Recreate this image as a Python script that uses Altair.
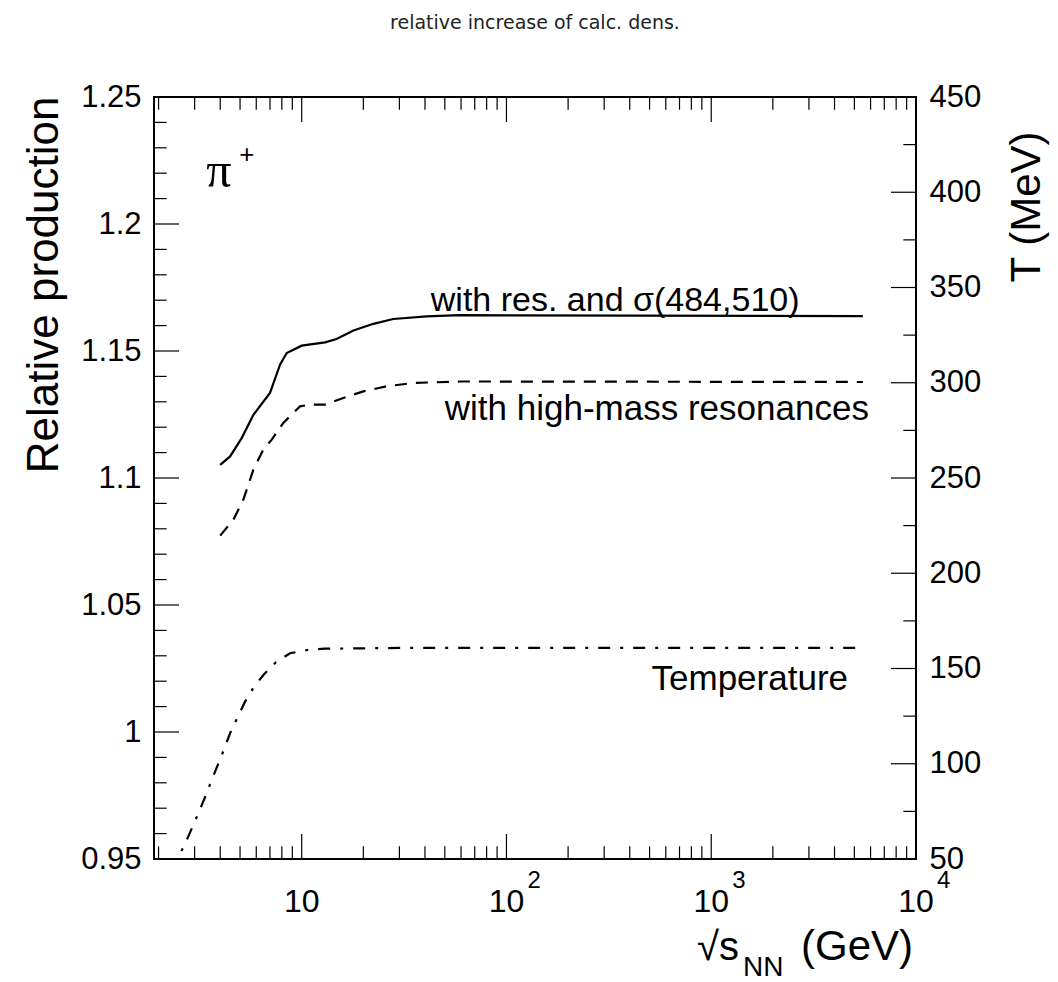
import altair as alt
import pandas as pd

# ---------------- data ----------------
# solid: with res. and sigma(484,510)
sqrt_s_res = [4.0, 4.47, 5.10, 5.81, 7.00, 7.84, 8.45, 10.0, 13.0, 14.8, 17.9, 22.4, 28.0, 40.7, 59.2, 5500]
rel_res = [1.1052, 1.1085, 1.1158, 1.1249, 1.1335, 1.1446, 1.1492, 1.1521, 1.1534, 1.1547,
           1.1581, 1.1607, 1.1626, 1.1636, 1.1641, 1.1637]
# dashed: with high-mass resonances
sqrt_s_hm = [4.0, 4.64, 5.19, 5.81, 6.50, 7.14, 8.13, 9.81, 10.98, 13.0, 15.96, 19.98, 26.0, 35.0, 59.2, 5500]
rel_hm = [1.0773, 1.0836, 1.0915, 1.1033, 1.1112, 1.1151, 1.1217, 1.1282, 1.1289, 1.1289,
          1.1315, 1.1341, 1.1361, 1.1374, 1.1380, 1.1378]
# dash-dot: temperature (right axis, MeV)
sqrt_s_T = [2.30, 2.50, 2.68, 3.13, 3.38, 3.61, 3.92, 4.18, 4.47, 4.85, 5.29, 5.81, 6.50, 7.49,
            8.77, 10.65, 13.0, 30.2, 5500]
temp_T = [44.0, 51.2, 57.4, 74.0, 82.7, 90.6, 100.2, 107.6, 116.0, 124.2, 132.6, 139.9, 146.6,
          153.3, 158.0, 159.7, 160.4, 160.8, 160.8]

# axis ticks / labels
y_labels = [0.95, 1.0, 1.05, 1.1, 1.15, 1.2, 1.25]
y_major_ticks = [1.0, 1.05, 1.1, 1.15, 1.2]
y_minor_ticks = [0.96, 0.97, 0.98, 0.99, 1.01, 1.02, 1.03, 1.04, 1.06, 1.07, 1.08, 1.09,
                 1.11, 1.12, 1.13, 1.14, 1.16, 1.17, 1.18, 1.19, 1.21, 1.22, 1.23, 1.24]
t_labels = [50, 100, 150, 200, 250, 300, 350, 400, 450]
t_major_ticks = [100, 150, 200, 250, 300, 350, 400]
t_minor_ticks = [75, 125, 175, 225, 275, 325, 375, 425]
x_label_pos = [10, 100, 1000, 10000]
x_label_text = ["10", "10", "10", "10"]
x_exponents = ["2", "3", "4"]
x_exp_pos = [100, 1000, 10000]
x_major_ticks = [10, 100, 1000]
x_minor_ticks = [2, 3, 4, 5, 6, 7, 8, 9, 20, 30, 40, 50, 60, 70, 80, 90,
                 200, 300, 400, 500, 600, 700, 800, 900, 2000, 3000, 4000, 5000, 6000, 7000, 8000, 9000]

# ---------------- layout ----------------
W = H = 762
FONT = "Liberation Sans"
xs = alt.Scale(type="log", domain=[1.9, 10000], nice=False)
ys = alt.Scale(domain=[0.95, 1.25], nice=False, zero=False)
ts = alt.Scale(domain=[50, 450], nice=False, zero=False)

y_axis = alt.Axis(orient="left", values=y_labels, format="~g", ticks=False, domain=False, grid=False,
                  labelFont=FONT, labelFontSize=31, labelColor="black", labelPadding=13,
                  labelOverlap=False, labelFlush=False,
                  title="Relative production", titleFont=FONT, titleFontSize=44,
                  titleFontWeight="normal", titleColor="black", titleAngle=270,
                  titleX=-97, titleY=-1, titleAlign="right", titleBaseline="alphabetic")
t_axis = alt.Axis(orient="right", values=t_labels, format="d", ticks=False, domain=False, grid=False,
                  labelFont=FONT, labelFontSize=31, labelColor="black", labelPadding=13,
                  labelOverlap=False, labelFlush=False,
                  title="T (MeV)", titleFont=FONT, titleFontSize=42, titleFontWeight="normal",
                  titleColor="black", titleAngle=270, titleX=123, titleY=34,
                  titleAlign="right", titleBaseline="alphabetic")

df_res = pd.DataFrame({"s": sqrt_s_res, "v": rel_res})
df_hm = pd.DataFrame({"s": sqrt_s_hm, "v": rel_hm})
df_T = pd.DataFrame({"s": sqrt_s_T, "t": temp_T})

res_line = alt.Chart(df_res).mark_line(color="black", strokeWidth=2.2, clip=True).encode(
    x=alt.X("s:Q", scale=xs, axis=None),
    y=alt.Y("v:Q", scale=ys, axis=y_axis),
)
hm_line = alt.Chart(df_hm).mark_line(color="black", strokeWidth=2.2, strokeDash=[12, 9], clip=True).encode(
    x=alt.X("s:Q", scale=xs, axis=None),
    y=alt.Y("v:Q", scale=ys, axis=None),
)
T_line = alt.Chart(df_T).mark_line(color="black", strokeWidth=2.2, strokeDash=[12, 10, 3, 10], clip=True).encode(
    x=alt.X("s:Q", scale=xs, axis=None),
    y=alt.Y("t:Q", scale=ts, axis=t_axis),
)


def hticks(vals, length, scale, right=False):
    df = pd.DataFrame({"v": vals})
    if right:
        xv, x2v = W, W - length
    else:
        xv, x2v = 0, length
    return alt.Chart(df).mark_rule(color="black", strokeWidth=1.2).encode(
        y=alt.Y("v:Q", scale=scale, axis=None), x=alt.value(xv), x2=alt.value(x2v))


def vticks(vals, length, top=False):
    df = pd.DataFrame({"s": vals})
    if top:
        yv, y2v = 0, length
    else:
        yv, y2v = H, H - length
    return alt.Chart(df).mark_rule(color="black", strokeWidth=1.2).encode(
        x=alt.X("s:Q", scale=xs, axis=None), y=alt.value(yv), y2=alt.value(y2v))


def note(text, x, y, size, font=FONT, align="left"):
    return alt.Chart(pd.DataFrame({"label": [text]})).mark_text(
        font=font, fontSize=size, color="black", align=align, baseline="alphabetic").encode(
        text="label:N",
        x=alt.XDatum(x, type="quantitative", scale=xs, axis=None),
        y=alt.YDatum(y, type="quantitative", scale=ys, axis=None))


def pixnote(text, x, y, size, align="left"):
    return alt.Chart(pd.DataFrame({"label": [text]})).mark_text(
        font=FONT, fontSize=size, color="black", align=align, baseline="alphabetic").encode(
        text="label:N", x=alt.value(x), y=alt.value(y))


# bottom axis labels "10" and their exponents, placed through the x scale
x_tick_labels = alt.Chart(pd.DataFrame({"s": x_label_pos, "t": x_label_text})).mark_text(
    font=FONT, fontSize=32, color="black", align="center", baseline="alphabetic").encode(
    x=alt.X("s:Q", scale=xs, axis=None), y=alt.value(H + 53), text="t:N")
exp_labels = alt.Chart(pd.DataFrame({"s": x_exp_pos, "e": x_exponents})).mark_text(
    font=FONT, fontSize=24, color="black", align="left", baseline="alphabetic", dx=21).encode(
    x=alt.X("s:Q", scale=xs, axis=None), y=alt.value(H + 29), text="e:N")

chart = alt.layer(
    res_line, hm_line, T_line,
    hticks(y_major_ticks, 25, ys), hticks(y_minor_ticks, 12.7, ys),
    hticks(t_major_ticks, 25, ts, right=True), hticks(t_minor_ticks, 12.7, ts, right=True),
    vticks(x_major_ticks, 25), vticks(x_minor_ticks, 12.7),
    vticks(x_major_ticks, 25, top=True), vticks(x_minor_ticks, 12.7, top=True),
    note("with res. and σ(484,510)", 42.7, 1.1658, 34),
    note("with high-mass resonances", 50.0, 1.1230, 35),
    note("Temperature", 511.0, 1.0167, 35),
    note("π", 3.42, 1.2147, 50, font="Liberation Serif"),
    note("+", 4.95, 1.2241, 26),
    x_tick_labels,
    exp_labels,
    pixnote("√s", 543, 863, 40),
    pixnote("NN", 589, 879, 28),
    pixnote("(GeV)", 759, 863, 42, align="right"),
).resolve_scale(y="independent").properties(
    width=W, height=H,
    autosize=alt.AutoSizeParams(type="none"),
    padding={"left": 154, "top": 97, "right": 142, "bottom": 123},
    background="white",
    title=alt.TitleParams("relative increase of calc. dens.", font="DejaVu Sans", fontSize=19,
                          fontWeight="normal", color="#222222", anchor="middle", offset=48),
).configure_view(stroke="black", strokeWidth=2)

chart.save("out.html", embed_options={"renderer": "svg", "actions": False})
